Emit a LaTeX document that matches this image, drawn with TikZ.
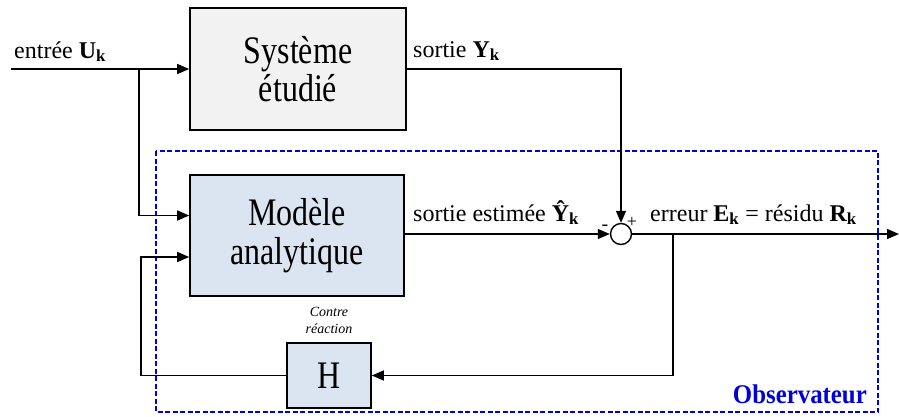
\documentclass[tikz,border=0pt]{standalone}
\usepackage{fontspec}
\setmainfont{Liberation Serif}
\newfontfamily\blockfont{Liberation Serif}[FakeStretch=0.82]
\newfontfamily\obsfont{Liberation Serif}[FakeStretch=0.92]
\usetikzlibrary{arrows.meta}
\definecolor{sysgray}{HTML}{F2F2F2}
\definecolor{modblue}{HTML}{DBE5F1}
\definecolor{obsblue}{HTML}{0000DD}
\begin{document}
\begin{tikzpicture}[x=1pt,y=-1pt,
  block/.style={draw=black, line width=1.6pt, align=center, font=\blockfont\fontsize{39}{38.5}\selectfont},
  wire/.style={line width=1.4pt},
  arr/.style={wire, -{Triangle[length=12pt,width=10pt]}},
  lbl/.style={font=\fontsize{24}{26}\selectfont, anchor=base west}]
\tikzstyle{every node}+=[inner sep=0pt]
\useasboundingbox (0,0) rectangle (899,416);
% observer frame
\draw [obsblue, line width=1.3pt, dash pattern=on 5pt off 2.5pt] (156,151) rectangle (878,412);
\node [font=\obsfont\fontsize{27}{27}\selectfont\bfseries, text=obsblue, anchor=base east] (obs) at (867,403) {Observateur};
% blocks
\node [block, fill=sysgray, minimum width=216pt, minimum height=122pt] (sys) at (298,69) {Système\\étudié};
\node [block, fill=modblue, minimum width=214pt, minimum height=121pt] (mod) at (297,235.5) {Modèle\\analytique};
\node [block, fill=modblue, minimum width=84pt, minimum height=65pt] (H) at (329,375.5) {H};
\node [draw, circle, line width=1.4pt, minimum size=21pt, fill=white] (sum) at (621,234) {};
\coordinate (in) at (11,69);
\coordinate (b1) at (139,69);
\coordinate (b2) at (673,234);
\coordinate (fb) at (141,257);
\coordinate (out) at (899,234);
% wires
\draw [arr] (in) -- (sys.west);
\draw [arr] (b1) |- ([yshift=20pt]mod.west);
\draw [arr] (sys.east) -| (sum.north);
\draw [arr] (mod.east |- sum) -- (sum.west);
\draw [arr] (sum.east) -- (out);
\draw [arr] (b2) |- (H.east);
\draw [arr] (H.west) -| (fb) -- (mod.west |- fb);
% labels
\node [lbl] (uin) at (14,58) {entrée \textbf{U\textsubscript{k}}};
\node [lbl] (yout) at (413,57) {sortie \textbf{Y\textsubscript{k}}};
\node [lbl] (yest) at (413,221) {sortie estimée \textbf{Ŷ\textsubscript{k}}};
\node [lbl] (err) at (650,221) {erreur \textbf{E\textsubscript{k}} = résidu \textbf{R\textsubscript{k}}};
\node [font=\fontsize{20}{20}\selectfont] (minus) at (605,228) {-};
\node [font=\fontsize{18}{18}\selectfont] (plus) at (632,222) {+};
\node [font=\fontsize{14}{17}\selectfont\itshape, align=center] (cr) at (329,320) {Contre\\réaction};
\end{tikzpicture}
\end{document}
